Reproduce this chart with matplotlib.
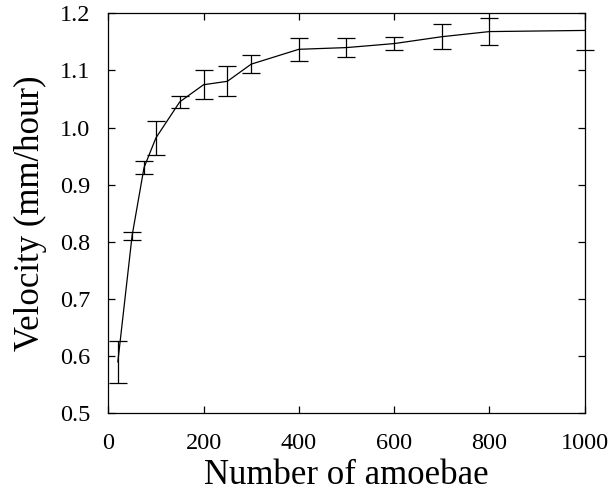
import numpy as np
import matplotlib
matplotlib.use("Agg")
import matplotlib.pyplot as plt
from matplotlib.patches import Rectangle

# number of amoebae vs. velocity, with error bars
amoebae = [20, 50, 75, 100, 150, 200, 250, 300, 400, 500, 600, 700, 800, 1000]
velocity = [0.590, 0.811, 0.930, 0.982, 1.045, 1.075, 1.081, 1.111,
            1.137, 1.140, 1.147, 1.159, 1.168, 1.170]
err_low = [0.037, 0.007, 0.012, 0.030, 0.011, 0.025, 0.026, 0.016,
           0.020, 0.016, 0.011, 0.022, 0.023, 0.034]
err_high = [0.037, 0.007, 0.012, 0.030, 0.011, 0.025, 0.026, 0.016,
            0.020, 0.016, 0.011, 0.022, 0.023, 0.034]

xticks = [0, 200, 400, 600, 800, 1000]
yticks = [0.5, 0.6, 0.7, 0.8, 0.9, 1.0, 1.1, 1.2]

plt.rcParams['font.family'] = ['Liberation Serif', 'DejaVu Serif']

fig = plt.figure(figsize=(6.12, 4.91), dpi=100)
ax = fig.add_axes([108.3 / 612, (491 - 413.3) / 491,
                   (584.6 - 108.3) / 612, (413.3 - 13.3) / 491])

ax.plot(amoebae, velocity, color='black', lw=0.9)
_, caps, bars = ax.errorbar(amoebae, velocity, yerr=[err_low, err_high],
                            fmt='none', ecolor='black', elinewidth=0.9,
                            capsize=6.8, capthick=0.9)

# gnuplot lets the caps stick out sideways past the frame, not above it
clip = Rectangle((-0.05, 0.0), 1.1, 1.0, transform=ax.transAxes,
                 facecolor='none')
for c in caps:
    c.set_clip_path(clip)

ax.set_xlim(0, 1000)
ax.set_ylim(0.5, 1.2)
ax.set_xticks(xticks)
ax.set_yticks(yticks)
ax.set_xticklabels([str(t) for t in xticks])
ax.set_yticklabels([f'{t:.1f}' for t in yticks])
ax.tick_params(direction='in', length=5, width=0.9, top=True, right=True,
               labelsize=17.5)
ax.tick_params(axis='x', pad=14.5)
ax.tick_params(axis='y', pad=13)
for s in ax.spines.values():
    s.set_linewidth(0.9)

ax.set_xlabel('Number of amoebae', fontsize=25, labelpad=3)
ax.set_ylabel('Velocity (mm/hour)', fontsize=25, labelpad=9)

fig.savefig('out.png', dpi=100)
